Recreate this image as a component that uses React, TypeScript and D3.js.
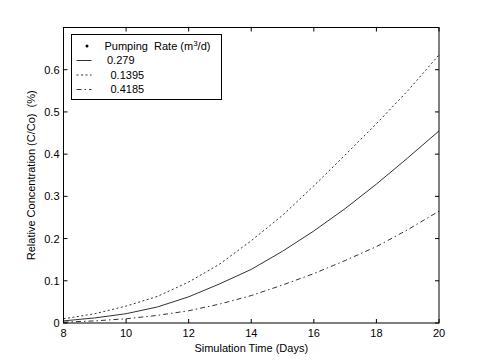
import { useMemo } from "react";
import * as d3 from "d3";

const WIDTH = 485;
const HEIGHT = 363;
const MARGIN = { top: 27.5, right: 46, bottom: 40, left: 63.5 };
const FONT = "'Liberation Sans', Arial, sans-serif";

// simulation days
const days = [8, 9, 10, 11, 12, 13, 14, 15, 16, 17, 18, 19, 20];

// relative concentration per pumping rate (m3/d)
const rate0279 = [0.005, 0.012, 0.022, 0.038, 0.062, 0.093, 0.127, 0.17, 0.218, 0.271, 0.329, 0.391, 0.455];
const rate01395 = [0.01, 0.022, 0.04, 0.063, 0.097, 0.14, 0.195, 0.255, 0.325, 0.398, 0.472, 0.55, 0.635];
const rate04185 = [0.002, 0.005, 0.01, 0.018, 0.029, 0.045, 0.065, 0.09, 0.117, 0.148, 0.181, 0.221, 0.265];

const seriesLabels = ["0.279", "0.1395", "0.4185"];
const seriesDash = ["none", "2,2.5", "5,3,1.5,3"];
const xTicks = [8, 10, 12, 14, 16, 18, 20];
const yTicks = [0, 0.1, 0.2, 0.3, 0.4, 0.5, 0.6];

const TICK = 4;
const PRE = { whiteSpace: "pre" as const };

const App = () => {
  const boundsWidth = WIDTH - MARGIN.left - MARGIN.right;
  const boundsHeight = HEIGHT - MARGIN.top - MARGIN.bottom;

  const xScale = useMemo(
    () => d3.scaleLinear().domain([8, 20]).range([0, boundsWidth]),
    [boundsWidth]
  );
  const yScale = useMemo(
    () => d3.scaleLinear().domain([0, 0.7]).range([boundsHeight, 0]),
    [boundsHeight]
  );

  const allSeries = [rate0279, rate01395, rate04185];
  const lineGen = d3
    .line<number>()
    .x((_, i) => xScale(days[i]))
    .y((d) => yScale(d));

  const paths = allSeries.map((values, i) => (
    <path
      key={i}
      d={lineGen(values) || ""}
      fill="none"
      stroke="#333"
      strokeWidth={1}
      strokeDasharray={seriesDash[i]}
    />
  ));

  const xAxis = xTicks.map((t) => (
    <g key={t}>
      <line x1={xScale(t)} x2={xScale(t)} y1={boundsHeight} y2={boundsHeight - TICK} stroke="#000" />
      <line x1={xScale(t)} x2={xScale(t)} y1={0} y2={TICK} stroke="#000" />
      <text
        x={xScale(t)}
        y={boundsHeight + 14}
        textAnchor="middle"
        fontSize={11}
        fontFamily={FONT}
        fill="#000"
      >
        {t}
      </text>
    </g>
  ));

  const yAxis = yTicks.map((t) => (
    <g key={t}>
      <line x1={0} x2={TICK} y1={yScale(t)} y2={yScale(t)} stroke="#000" />
      <line x1={boundsWidth} x2={boundsWidth - TICK} y1={yScale(t)} y2={yScale(t)} stroke="#000" />
      <text
        x={-4}
        y={yScale(t)}
        dy="0.36em"
        textAnchor="end"
        fontSize={11}
        fontFamily={FONT}
        fill="#000"
      >
        {t === 0 ? "0" : t.toFixed(1)}
      </text>
    </g>
  ));

  // legend, placed in the upper left of the axes
  const legendX = 8;
  const legendY = 7;
  const rowY = [18.5, 33, 47.5, 62];
  const legend = (
    <g transform={`translate(${legendX},${legendY})`}>
      <rect x={0} y={0} width={150} height={65} fill="#fff" stroke="#000" strokeWidth={1} />
      <circle cx={15.5} cy={rowY[0] - 7} r={1.5} fill="#000" />
      <text x={33} y={rowY[0] - 7} dy="0.36em" fontSize={11} fontFamily={FONT} style={PRE}>
        {"Pumping  Rate (m"}
        <tspan dy="-4" fontSize={8}>3</tspan>
        <tspan dy="4">/d)</tspan>
      </text>
      {seriesLabels.map((label, i) => (
        <g key={label}>
          <line
            x1={5}
            x2={20}
            y1={rowY[i + 1] - 7}
            y2={rowY[i + 1] - 7}
            stroke="#333"
            strokeDasharray={seriesDash[i]}
          />
          <text
            x={i === 0 ? 35.5 : 39}
            y={rowY[i + 1] - 7}
            dy="0.36em"
            fontSize={11}
            fontFamily={FONT}
          >
            {label}
          </text>
        </g>
      ))}
    </g>
  );

  return (
    <div>
      <svg
        width={WIDTH}
        height={HEIGHT}
        style={{ position: "absolute", left: 0, top: 0, background: "#fff" }}
      >
        <g transform={`translate(${MARGIN.left},${MARGIN.top})`}>
          <g>{paths}</g>
          <rect x={0} y={0} width={boundsWidth} height={boundsHeight} fill="none" stroke="#000" />
          <g>{xAxis}</g>
          <g>{yAxis}</g>
          {legend}
          <text
            x={boundsWidth / 2}
            y={boundsHeight + 29}
            textAnchor="middle"
            fontSize={11}
            fontFamily={FONT}
          >
            Simulation Time (Days)
          </text>
          <text
            transform={`translate(${-32},${boundsHeight / 2}) rotate(-90)`}
            textAnchor="middle"
            dy="0.36em"
            fontSize={11}
            fontFamily={FONT}
            style={PRE}
          >
            {"Relative Concentration (C/Co)  (%)"}
          </text>
        </g>
      </svg>
    </div>
  );
};

export default App;
